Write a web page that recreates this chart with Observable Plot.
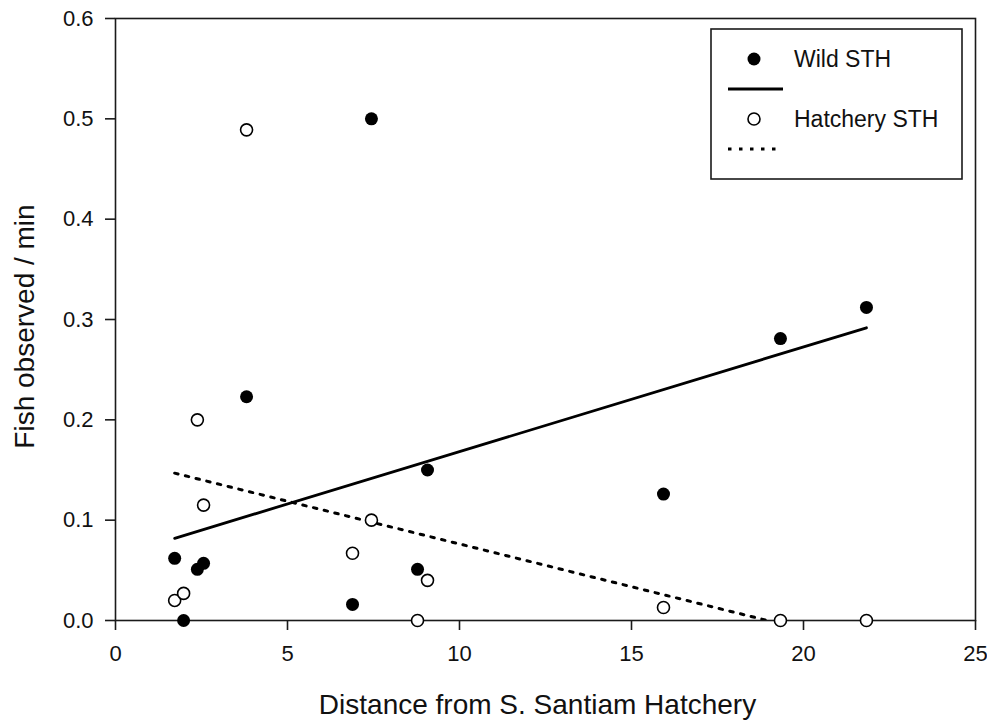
<!DOCTYPE html>
<html>
<head>
<meta charset="utf-8">
<script src="https://cdn.jsdelivr.net/npm/d3@7"></script>
<script src="https://cdn.jsdelivr.net/npm/@observablehq/plot@0.6"></script>
<style>
  html, body { margin: 0; padding: 0; background: #fff; }
  #chart { width: 987px; height: 721px; }
</style>
</head>
<body>
<div id="chart"></div>
<script>
// Survey sites: distance from the hatchery (shared by both series)
const distance     = [1.72, 1.98, 2.38, 2.56, 3.81, 7.44, 6.89, 8.78, 9.07, 15.93, 19.33, 21.83];
// Fish observed per minute at each site
const wildRate     = [0.062, 0.000, 0.051, 0.057, 0.223, 0.500, 0.016, 0.051, 0.150, 0.126, 0.281, 0.312];
const hatcheryRate = [0.020, 0.027, 0.200, 0.115, 0.489, 0.100, 0.067, 0.000, 0.040, 0.013, 0.000, 0.000];

const seriesNames = ["Wild STH", "Hatchery STH"];
const xTicks = [0, 5, 10, 15, 20, 25];
const yTicks = [0, 0.1, 0.2, 0.3, 0.4, 0.5, 0.6];
const xTitle = "Distance from S. Santiam Hatchery";
const yTitle = "Fish observed / min";

const font = '"Liberation Sans", Arial, Helvetica, sans-serif';
const ink = "#111";
const lineInk = "#1a1a1a";

const wild = distance.map((d, i) => ({distance: d, rate: wildRate[i]}));
const hatchery = distance.map((d, i) => ({distance: d, rate: hatcheryRate[i]}));

const dotted = {strokeDasharray: "3.5,7.5", strokeWidth: 3};
const solid = {strokeWidth: 2.8};

const chart = Plot.plot({
  width: 987,
  height: 721,
  marginLeft: 115,
  marginRight: 12,
  marginTop: 18,
  marginBottom: 101,
  style: {fontFamily: font, fontSize: "22px", color: ink, background: "#fff"},
  x: {domain: [0, 25]},
  y: {domain: [0, 0.6]},
  marks: [
    Plot.frame({stroke: lineInk, strokeWidth: 1.6}),
    Plot.axisX({ticks: xTicks, tickSize: 10, tickPadding: 15, strokeWidth: 1.6, stroke: lineInk, label: null}),
    Plot.axisY({ticks: yTicks, tickSize: 10, tickPadding: 12, strokeWidth: 1.6, stroke: lineInk,
                tickFormat: d3.format(".1f"), label: null}),
    Plot.text([xTitle], {text: d => d, frameAnchor: "bottom", textAnchor: "middle", lineAnchor: "bottom",
                         dx: -8, dy: 93, fontSize: 28, fill: ink}),
    Plot.text([yTitle], {text: d => d, frameAnchor: "left", textAnchor: "middle", rotate: -90, lineAnchor: "middle",
                         dx: -90, dy: 7, fontSize: 28, fill: ink}),
    // Fitted trends for each group (the hatchery fit drops below zero and is cut at the axis)
    Plot.linearRegressionY(wild, {x: "distance", y: "rate", ci: 0, stroke: "#000", ...solid}),
    Plot.linearRegressionY(hatchery, {x: "distance", y: "rate", ci: 0, stroke: "#000", clip: true, ...dotted}),
    Plot.dot(wild, {x: "distance", y: "rate", r: 6.5, fill: "#000"}),
    Plot.dot(hatchery, {x: "distance", y: "rate", r: 6, fill: "#fff", stroke: "#000", strokeWidth: 1.6})
  ]
});

// Legend box in the upper-right corner of the plot area
const svg = d3.select(chart);
const lg = svg.append("g").attr("transform", "translate(711,29)")
  .attr("font-family", font).attr("font-size", 23).attr("fill", ink)
  .attr("text-anchor", "start");
lg.append("rect").attr("width", 251).attr("height", 150)
  .attr("fill", "#fff").attr("stroke", lineInk).attr("stroke-width", 1.6);

const entries = [
  {name: seriesNames[0], fill: "#000", r: 6.5, line: solid},
  {name: seriesNames[1], fill: "#fff", r: 6, line: dotted}
];
entries.forEach((e, i) => {
  const y0 = 30 + i * 60;
  lg.append("circle").attr("cx", 43).attr("cy", y0).attr("r", e.r)
    .attr("fill", e.fill).attr("stroke", "#000").attr("stroke-width", e.fill === "#fff" ? 1.6 : 0);
  lg.append("text").attr("x", 83).attr("y", y0).attr("dy", "0.35em")
    .attr("text-anchor", "start").text(e.name);
  lg.append("line").attr("x1", 17).attr("x2", 72).attr("y1", y0 + 30).attr("y2", y0 + 30)
    .attr("stroke", "#000").attr("stroke-width", e.line.strokeWidth)
    .attr("stroke-dasharray", e.line.strokeDasharray || null);
});

document.getElementById("chart").appendChild(chart);
</script>
</body>
</html>
